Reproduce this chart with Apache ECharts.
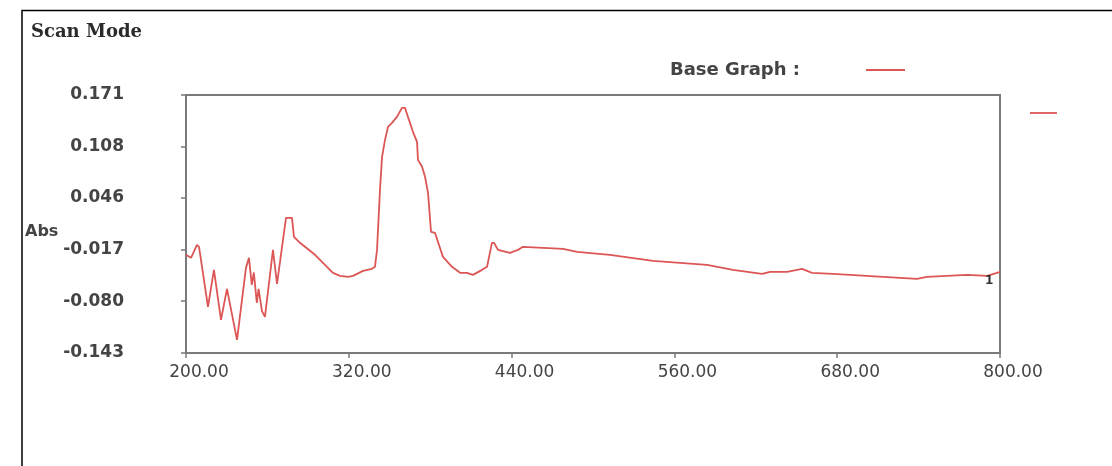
<!DOCTYPE html>
<html>
<head>
<meta charset="utf-8">
<script src="https://cdn.jsdelivr.net/npm/echarts@6.0.0/dist/echarts.min.js"></script>
<style>
  html, body { margin: 0; padding: 0; background: #ffffff; }
  #chart { width: 1112px; height: 466px; }
</style>
</head>
<body>
<div id="chart"></div>
<script>
// ---- data ----
const titleText = 'Scan Mode';
const seriesName = 'Base Graph :';
const yAxisName = 'Abs';
const xTicks = [200, 320, 440, 560, 680, 800];
const yTicks = [-0.143, -0.080, -0.017, 0.046, 0.108, 0.171];

const wavelength = [
  200.0, 203.7, 208.1, 209.6, 216.2, 220.6, 225.8, 230.2, 237.6, 244.2,
  246.4, 248.5, 250.0, 252.2, 253.5, 256.0, 258.2, 264.1, 267.1, 273.7,
  278.1, 279.6, 284.0, 295.1, 308.3, 313.5, 319.4, 323.1, 330.5, 337.1,
  339.3, 340.8, 343.0, 344.5, 346.7, 348.9, 351.8, 355.5, 359.2, 361.4,
  363.6, 367.3, 370.3, 371.0, 374.0, 376.2, 378.4, 380.6, 383.5, 389.4,
  396.1, 402.0, 407.1, 411.5, 418.2, 421.9, 425.5, 427.0, 430.0, 438.8,
  444.7, 448.4, 477.9, 488.2, 512.5, 544.2, 584.0, 603.2, 624.6, 630.5,
  643.0, 654.1, 661.4, 676.9, 738.8, 746.2, 775.7, 790.4, 797.8, 800.0
];
const absorbance = [
  -0.0235, -0.0272, -0.0114, -0.0138, -0.0868, -0.0418, -0.1026, -0.0649, -0.1270, -0.0394,
  -0.0272, -0.0600, -0.0450, -0.0820, -0.0650, -0.0920, -0.0990, -0.0175, -0.0588, 0.0215,
  0.0215, -0.0016, -0.0089, -0.0235, -0.0454, -0.0491, -0.0503, -0.0491, -0.0430, -0.0406,
  -0.0381, -0.0175, 0.0556, 0.0957, 0.1164, 0.1322, 0.1371, 0.1444, 0.1554, 0.1554,
  0.1444, 0.1262, 0.1140, 0.0921, 0.0836, 0.0714, 0.0519, 0.0045, 0.0033, -0.0260,
  -0.0381, -0.0454, -0.0454, -0.0479, -0.0418, -0.0381, -0.0089, -0.0089, -0.0175, -0.0211,
  -0.0175, -0.0138, -0.0162, -0.0199, -0.0235, -0.0308, -0.0357, -0.0418, -0.0467, -0.0442,
  -0.0442, -0.0406, -0.0454, -0.0467, -0.0527, -0.0503, -0.0479, -0.0491, -0.0454, -0.0442
];
const endMarkText = '1';

// ---- chart ----
const lineColor = '#dd5656';
const axisColor = '#7a7a7a';
const labelFont = 'DejaVu Sans';

const chart = echarts.init(document.getElementById('chart'), null, { renderer: 'canvas' });
chart.setOption({
  backgroundColor: '#ffffff',
  animation: false,
  title: {
    text: titleText,
    left: 26,
    top: 18,
    textStyle: { fontFamily: 'DejaVu Serif', fontSize: 18, fontWeight: 'bold', color: '#2a2a2a' }
  },
  legend: {
    data: [seriesName],
    right: 207,
    top: 61,
    padding: 0,
    align: 'right',
    icon: 'rect',
    itemWidth: 39,
    itemHeight: 2,
    itemStyle: { color: lineColor },
    textStyle: { fontFamily: labelFont, fontSize: 18, fontWeight: 'bold', color: '#444', padding: [0, 61, 0, 0] }
  },
  grid: {
    left: 186, right: 112, top: 95, bottom: 113,
    show: true, borderColor: axisColor, borderWidth: 2, backgroundColor: 'transparent'
  },
  xAxis: {
    type: 'value',
    min: xTicks[0],
    max: xTicks[xTicks.length - 1],
    axisLine: { show: true, onZero: false, lineStyle: { color: axisColor, width: 2 } },
    axisTick: { show: true, length: 5, customValues: xTicks, lineStyle: { color: axisColor, width: 1.5 } },
    axisLabel: {
      customValues: xTicks,
      formatter: v => Number(v).toFixed(2),
      fontFamily: labelFont, fontSize: 17, color: '#444', margin: 11,
      padding: [0, 0, 0, 26]
    },
    splitLine: { show: false }
  },
  yAxis: {
    type: 'value',
    min: yTicks[0],
    max: yTicks[yTicks.length - 1],
    axisLine: { show: true, onZero: false, lineStyle: { color: axisColor, width: 2 } },
    axisTick: { show: true, length: 5, customValues: yTicks, lineStyle: { color: axisColor, width: 1.5 } },
    axisLabel: {
      customValues: yTicks,
      formatter: v => Number(v).toFixed(3),
      fontFamily: labelFont, fontSize: 17, fontWeight: 'bold', color: '#444', margin: 62
    },
    splitLine: { show: false }
  },
  series: [{
    name: seriesName,
    type: 'line',
    data: wavelength.map((w, i) => [w, absorbance[i]]),
    symbol: 'none',
    showSymbol: false,
    lineStyle: { color: lineColor, width: 1.8 },
    itemStyle: { color: lineColor },
    endLabel: {
      show: true,
      formatter: () => endMarkText,
      distance: 0,
      offset: [-15, 9],
      fontFamily: labelFont, fontSize: 12, fontWeight: 'bold', color: '#333'
    }
  }],
  graphic: [
    { type: 'polyline', shape: { points: [[22, 466], [22, 10.5], [1112, 10.5]] }, style: { stroke: '#000', lineWidth: 1.5, fill: null }, silent: true },
    { type: 'line', shape: { x1: 1030, y1: 113, x2: 1057, y2: 113 }, style: { stroke: lineColor, lineWidth: 1.8 }, silent: true },
    { type: 'text', left: 25, top: 224, style: { text: yAxisName, fontFamily: labelFont, fontSize: 16, fontWeight: 'bold', fill: '#444' }, silent: true }
  ]
});
</script>
</body>
</html>
